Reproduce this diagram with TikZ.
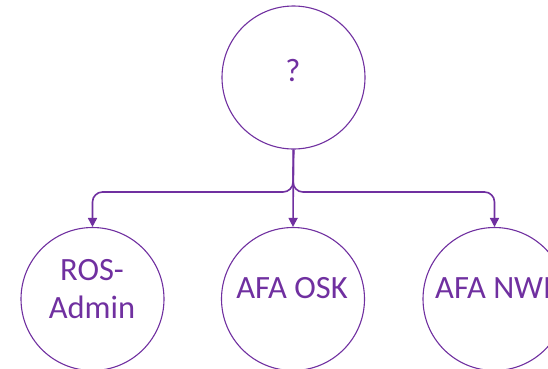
\documentclass[tikz,border=0pt]{standalone}
\usepackage{fontspec}
\setmainfont{Carlito}
\usetikzlibrary{arrows.meta}
\definecolor{ppl}{HTML}{7030A0}
\tikzset{
  circ/.style={circle, draw=ppl, line width=1.1pt, minimum size=143pt, inner sep=0pt},
  lbl/.style={text=ppl, font=\fontsize{32.5}{38}\selectfont, align=center, inner sep=0pt},
  conn/.style={draw=ppl, line width=1.6pt, rounded corners=10pt, -{Triangle[width=9pt,length=9pt]}}
}
\begin{document}
\begin{tikzpicture}[x=1pt,y=-1pt]
\useasboundingbox (0,0) rectangle (548,368);
\clip (0,0) rectangle (548,368);
\node[circ] (top) at (293.5,77.5) {};
\node[circ] (ros) at (92.5,299) {};
\node[circ] (osk) at (293,299) {};
\node[circ] (nwi) at (494.5,299) {};
\node[lbl] (tq) at (293,71) {?};
\node[lbl] (tros) at (92,289) {ROS-\\Admin};
\node[lbl] (tosk) at (292,288) {AFA OSK};
\node[lbl, anchor=west] (tnwi) at (435,288) {AFA NWI};
\coordinate (j) at (293,192);
\draw[conn] (top.south) -- (j) -- (j -| ros) -- (ros.north);
\draw[conn] (top.south) -- (j) -- (j -| nwi) -- (nwi.north);
\draw[conn] (top.south) -- (osk.north);
\end{tikzpicture}
\end{document}
